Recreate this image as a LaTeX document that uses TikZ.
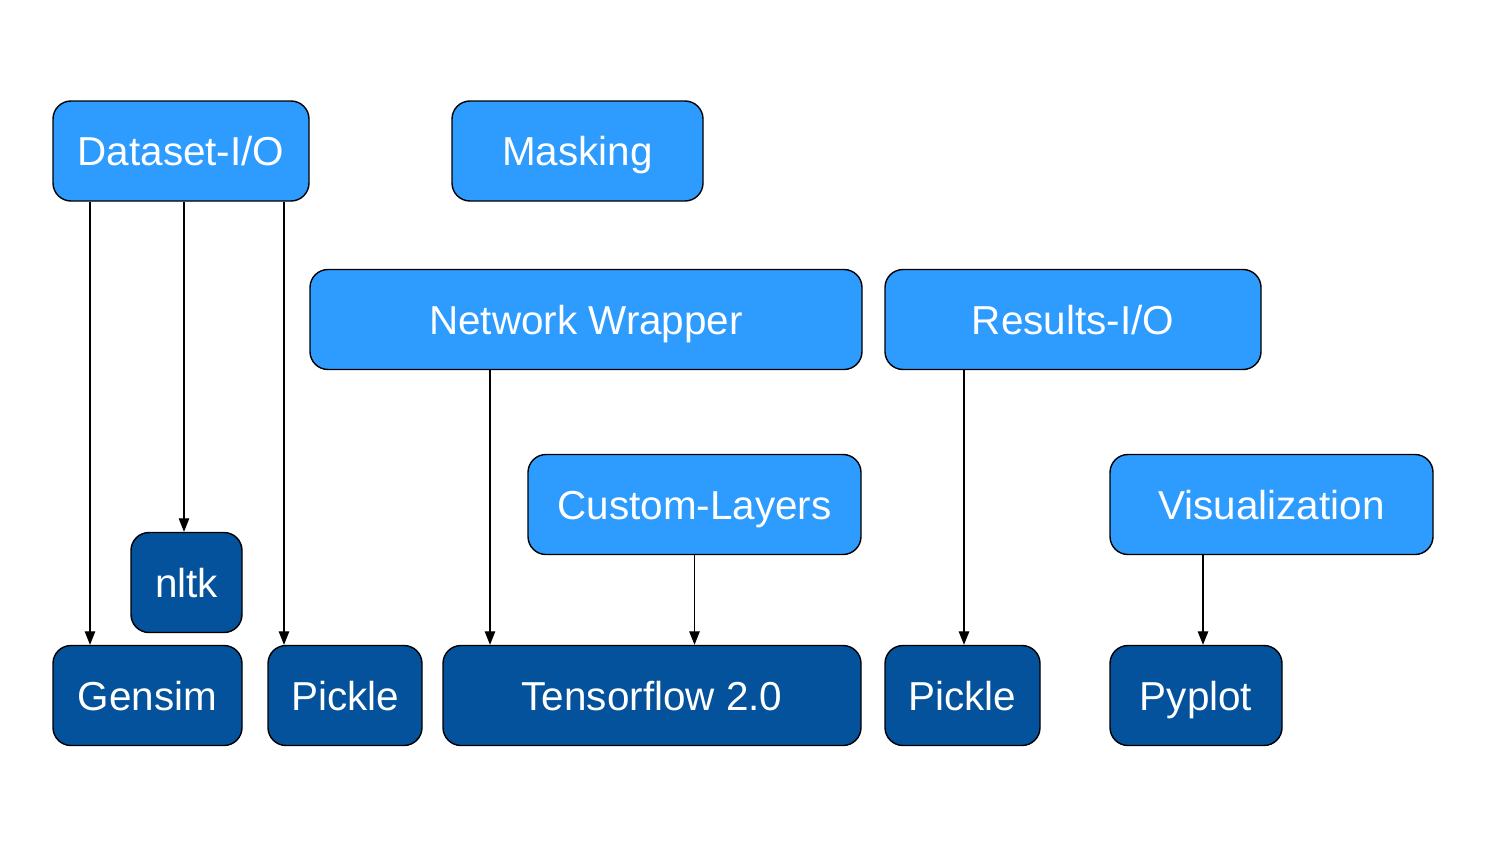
\documentclass[tikz,border=0pt]{standalone}
\usepackage{fontspec}
\setmainfont{Liberation Sans}
\usetikzlibrary{arrows.meta}
\definecolor{modblue}{RGB}{46,155,255}
\definecolor{libblue}{RGB}{3,82,155}

\begin{document}
\begin{tikzpicture}[
  box/.style={draw=black, line width=0.8pt, rounded corners=0.36cm, text=white,
    minimum height=2cm, inner sep=0pt, text height=16.5pt, text depth=0pt,
    font=\fontsize{23}{27}\selectfont},
  module/.style={box, fill=modblue},
  lib/.style={box, fill=libblue},
  arr/.style={-{Triangle[length=0.27cm,width=0.21cm]}, line width=0.7pt}]
  \useasboundingbox (0,0) rectangle (30,-17);

  \node[module, minimum width=5.12cm] (dsio) at (3.62,-3.02) {Dataset-I/O};
  \node[module, minimum width=5.02cm] (mask) at (11.55,-3.02) {Masking};
  \node[module, minimum width=11.04cm] (netw) at (11.72,-6.39) {Network Wrapper};
  \node[module, minimum width=7.52cm] (resio) at (21.46,-6.39) {Results-I/O};
  \node[module, minimum width=6.66cm] (custom) at (13.89,-10.09) {Custom-Layers};
  \node[module, minimum width=6.46cm] (vis) at (25.43,-10.09) {Visualization};

  \node[lib, minimum width=2.22cm] (nltk) at (3.73,-11.65) {nltk};
  \node[lib, minimum width=3.78cm] (gensim) at (2.95,-13.91) {Gensim};
  \node[lib, minimum width=3.08cm] (pickleA) at (6.90,-13.91) {Pickle};
  \node[lib, minimum width=8.36cm] (tf) at (13.04,-13.91) {Tensorflow 2.0};
  \node[lib, minimum width=3.10cm] (pickleB) at (19.25,-13.91) {Pickle};
  \node[lib, minimum width=3.44cm] (pyplot) at (23.92,-13.91) {Pyplot};

  \draw[arr] ([xshift=-1.82cm]dsio.south) -- ([xshift=-1.82cm]dsio.south |- gensim.north);
  \draw[arr] ([xshift=0.06cm]dsio.south) -- ([xshift=0.06cm]dsio.south |- nltk.north);
  \draw[arr] ([xshift=2.06cm]dsio.south) -- ([xshift=2.06cm]dsio.south |- pickleA.north);
  \draw[arr] ([xshift=-1.92cm]netw.south) -- ([xshift=-1.92cm]netw.south |- tf.north);
  \draw[arr] (custom.south) -- (custom.south |- tf.north);
  \draw[arr] ([xshift=-2.18cm]resio.south) -- ([xshift=-2.18cm]resio.south |- pickleB.north);
  \draw[arr] ([xshift=-1.37cm]vis.south) -- ([xshift=-1.37cm]vis.south |- pyplot.north);
\end{tikzpicture}
\end{document}
